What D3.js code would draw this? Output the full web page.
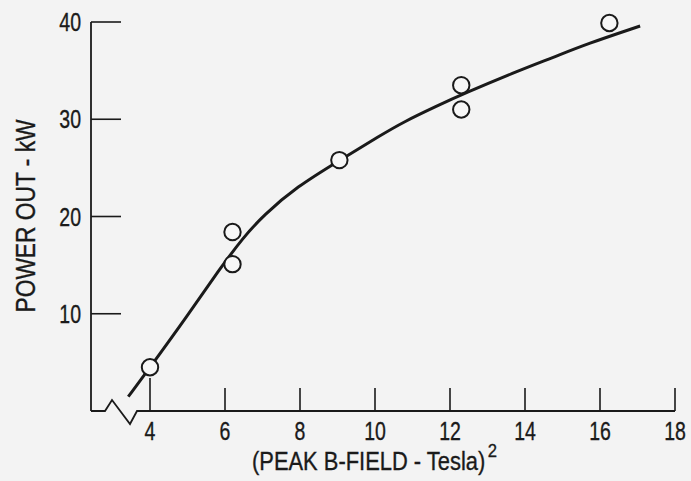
<!DOCTYPE html>
<html>
<head>
<meta charset="utf-8">
<script src="https://cdn.jsdelivr.net/npm/d3@7"></script>
<style>
  html, body { margin: 0; padding: 0; background: #f3f3f3; }
  svg { display: block; }
  text { font-family: "Liberation Sans", Arial, sans-serif; fill: #1a1a1a; stroke: #1a1a1a; stroke-width: 0.35; }
</style>
</head>
<body>
<script>
// ---- data ----
const xTicks = [4, 6, 8, 10, 12, 14, 16, 18];
const yTicks = [10, 20, 30, 40];
const pointX = [4.0, 6.2, 6.2, 9.05, 12.3, 12.3, 16.25];
const pointY = [4.5, 18.4, 15.1, 25.8, 33.5, 31.0, 39.9];
const curveX = [3.42, 4.0, 4.98, 5.87, 6.49, 7.02, 7.91, 9.07, 10.13, 10.75, 11.65, 12.35, 13.87, 14.75, 15.65, 17.07];
const curveY = [1.47, 4.49, 9.70, 14.67, 17.85, 20.1, 23.06, 25.81, 28.3, 29.7, 31.36, 32.6, 35.06, 36.35, 37.75, 39.59];
const xTitle = "(PEAK B-FIELD - Tesla)";
const xTitleSup = "2";
const yTitle = "POWER OUT - kW";

const W = 691, H = 481;
const ink = "#1a1a1a";
const svg = d3.select("body").append("svg").attr("width", W).attr("height", H);

const x = d3.scaleLinear().domain([4, 18]).range([150, 675]);
const y = d3.scaleLinear().domain([0, 40]).range([411, 22]);
const axisX = 91;   // left axis position (px)
const narrow = 0.78; // horizontal squeeze for the lettering

// y axis line
svg.append("line").attr("x1", axisX).attr("x2", axisX).attr("y1", y(40)).attr("y2", y(0))
  .attr("stroke", ink).attr("stroke-width", 1.8);

// x axis with break
const y0 = y(0);
const brk = d3.line()([
  [axisX, y0], [axisX + 14, y0], [axisX + 21, y0 - 11], [axisX + 39, y0 + 13], [axisX + 46, y0], [x(18), y0]
]);
svg.append("path").attr("d", brk).attr("fill", "none").attr("stroke", ink)
  .attr("stroke-width", 1.8).attr("stroke-linejoin", "miter");

// y ticks
svg.selectAll(".yt").data(yTicks).join("line")
  .attr("x1", axisX).attr("x2", axisX + 30)
  .attr("y1", d => y(d)).attr("y2", d => y(d))
  .attr("stroke", ink).attr("stroke-width", 1.6);
svg.selectAll(".yl").data(yTicks).join("text")
  .attr("transform", d => `translate(${axisX - 10},${y(d) + 9}) scale(${narrow},1)`)
  .attr("text-anchor", "end").attr("font-size", 25)
  .text(d => d);

// x ticks
svg.selectAll(".xt").data(xTicks).join("line")
  .attr("x1", d => x(d)).attr("x2", d => x(d))
  .attr("y1", y0).attr("y2", d => d === 4 ? y0 - 33 : y0 - 23)
  .attr("stroke", ink).attr("stroke-width", 1.6);
svg.selectAll(".xl").data(xTicks).join("text")
  .attr("transform", d => `translate(${x(d)},440) scale(${narrow},1)`)
  .attr("text-anchor", "middle").attr("font-size", 25)
  .text(d => d);

// axis titles
const xt = svg.append("text").attr("transform", "translate(252,470) scale(0.876,1)")
  .attr("font-size", 25);
xt.append("tspan").text(xTitle);
xt.append("tspan").attr("dx", 3).attr("dy", -13).attr("font-size", 19).text(xTitleSup);

svg.append("text").attr("transform", "translate(35,216) rotate(-90)")
  .attr("text-anchor", "middle").attr("font-size", 27)
  .attr("textLength", 193).attr("lengthAdjust", "spacingAndGlyphs").text(yTitle);

// fitted curve
const curvePts = curveX.map((d, i) => [x(d), y(curveY[i])]);
svg.append("path").attr("d", d3.line().curve(d3.curveBasis)(curvePts))
  .attr("fill", "none").attr("stroke", ink).attr("stroke-width", 3).attr("stroke-linecap", "butt");

// data points
svg.selectAll(".pt").data(pointX).join("circle")
  .attr("cx", d => x(d)).attr("cy", (d, i) => y(pointY[i])).attr("r", 8.2)
  .attr("fill", "#f7f7f7").attr("stroke", ink).attr("stroke-width", 2);
</script>
</body>
</html>
